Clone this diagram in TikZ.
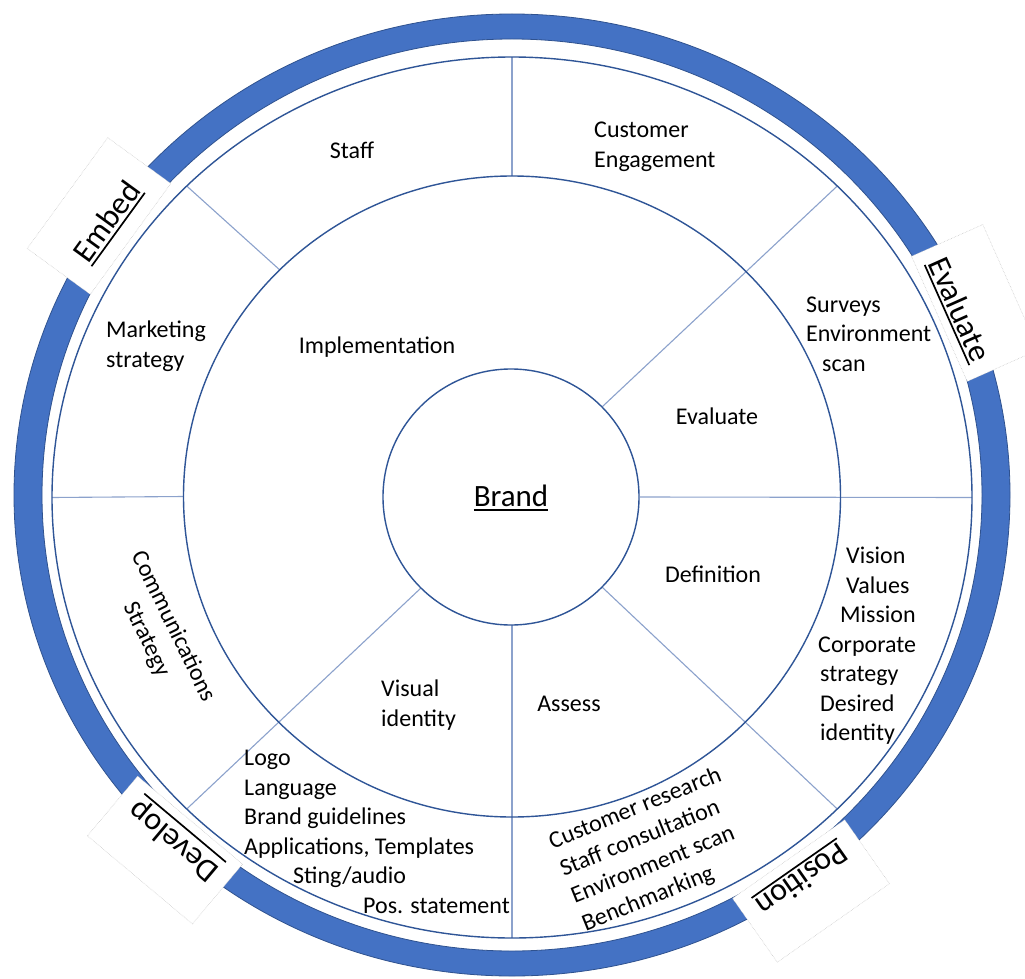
\documentclass[tikz,border=0pt]{standalone}
\usepackage{fontspec}
\setmainfont{Carlito}
\usetikzlibrary{calc}
\definecolor{ringblue}{HTML}{4472C4}
\definecolor{ringedge}{HTML}{2F528F}
\definecolor{rimline}{HTML}{2F5597}
\definecolor{spoke}{HTML}{8CA2CC}
\definecolor{boxedge}{HTML}{BFBFBF}
\newcommand{\myul}[1]{\leavevmode\vtop{\hbox{#1}\kern2.5pt\hrule height 1.7pt}}
\begin{document}
\begin{tikzpicture}[x=1pt,y=-1pt,
  lbl/.style={font=\fontsize{24}{29.5}\selectfont, inner sep=0pt},
  big/.style={font=\fontsize{32}{38}\selectfont, inner sep=0pt},
  lblbox/.style={draw=boxedge, densely dotted, line width=0.5pt, fill=white, minimum width=137pt, minimum height=78pt, inner sep=0pt},
  rim/.style={draw=rimline, line width=1.4pt},
  spokeline/.style={draw=spoke, line width=1.1pt}]
\useasboundingbox (0,0) rectangle (1025,979);
\fill[white] (0,0) rectangle (1025,979);
\coordinate (c) at (512,497);
% blue ring
\path[fill=ringblue, draw=ringedge, line width=0.8pt, even odd rule]
  (512,495) ellipse [x radius=498pt, y radius=481pt]
  (512,495) ellipse [x radius=470pt, y radius=456pt];
% stage boxes
\node[lblbox, rotate=54] (embedbox) at (99,216) {};
\node[lblbox, rotate=-66] (evalbox) at (975,303) {};
\node[lblbox, rotate=140] (devbox) at (165,850) {};
\node[lblbox, rotate=215] (posbox) at (811,891) {};
% spoke coordinates
\foreach \a in {0,45,...,315} {
  \coordinate (i\a) at ({512+128*cos(\a)},{497-128*sin(\a)});
  \coordinate (m\a) at ({512+328.5*cos(\a)},{496.5-320.5*sin(\a)});
  \coordinate (o\a) at ({512+460*cos(\a)},{497.5-440.5*sin(\a)});
}
\foreach \a in {0,45,225,270,315} \draw[spokeline] (i\a) -- (o\a);
\foreach \a in {90,135,180} \draw[spokeline] (m\a) -- (o\a);
% rims
\draw[rim] (512,496.5) ellipse [x radius=328.5pt, y radius=320.5pt];
\draw[rim] (512,497.5) ellipse [x radius=460pt, y radius=440.5pt];
\node[circle, rim, fill=white, minimum size=256pt, inner sep=0pt] (brandcircle) at (511,497) {};
\node[font=\fontsize{31}{36}\selectfont, inner sep=0pt] (brand) at (511,498) {\myul{Brand}};
% outer ring texts
\node[lbl] (staff) at (352,150) {Staff};
\node[lbl, align=left, anchor=west] (custeng) at (594,147) {Customer\\Engagement};
\node[lbl, align=left, anchor=west] (mkt) at (106,346) {Marketing\\strategy};
\node[lbl, align=left, anchor=west] (surv) at (806,334) {Surveys\\Environment\\\hspace*{16pt}scan};
\node[lbl, align=left, anchor=west] (vision) at (818,646) {\hspace*{28pt}Vision\\\hspace*{28pt}Values\\\hspace*{22pt}Mission\\Corporate\\\hspace*{2pt}strategy\\\hspace*{2pt}Desired\\\hspace*{2pt}identity};
\node[lbl, align=left, anchor=west] (logo) at (244,832) {Logo\\Language\\Brand guidelines\\Applications, Templates\\\hspace*{49pt}Sting/audio\\\hspace*{119pt}Pos. statement};
\node[lbl, align=left, rotate=22] (research) at (652,850) {Customer research\\Staff consultation\\Environment scan\\Benchmarking};
\node[lbl, align=center, rotate=-64] (comm) at (160,633) {Communications\\Strategy};
% inner ring texts
\node[lbl] (impl) at (377,347) {Implementation};
\node[lbl] (evalin) at (717,416) {Evaluate};
\node[lbl] (defn) at (713,574) {Definition};
\node[lbl] (assess) at (569,704) {Assess};
\node[lbl, align=left, anchor=west] (visid) at (381,705) {Visual\\identity};
% stage labels
\node[big, rotate=54] (embedtxt) at ($(embedbox.center)!11pt!(c)$) {\myul{Embed}};
\node[big, rotate=-66] (evaltxt) at ($(evalbox.center)!18pt!(c)$) {\myul{Evaluate}};
\node[big, rotate=140] (devtxt) at ($(devbox.center)!15pt!(c)$) {\myul{Develop}};
\node[big, rotate=215] (postxt) at ($(posbox.center)!16pt!(c)$) {\myul{Position}};
\end{tikzpicture}
\end{document}
